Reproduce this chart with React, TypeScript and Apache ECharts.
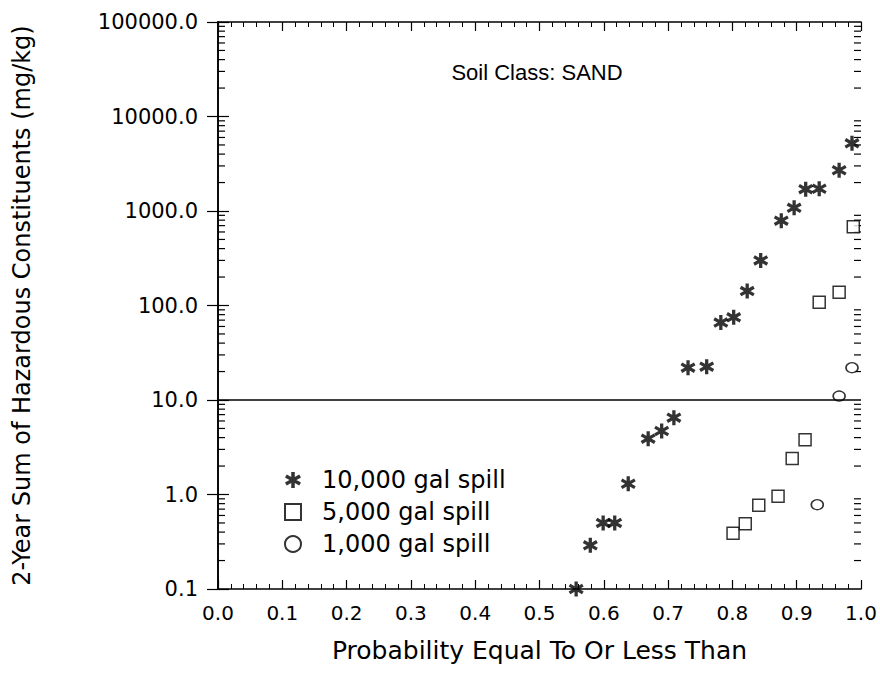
import React, { useEffect, useRef } from "react";
import * as echarts from "echarts";

// ---- data ----
const starX = [0.557, 0.579, 0.599, 0.617, 0.638, 0.669, 0.690, 0.709, 0.731, 0.760, 0.782, 0.802, 0.823, 0.844, 0.876, 0.896, 0.914, 0.935, 0.966, 0.986];
const starY = [0.1, 0.29, 0.5, 0.5, 1.3, 3.9, 4.7, 6.5, 22, 22.5, 66, 75, 142, 300, 790, 1080, 1700, 1720, 2700, 5200];
const squareX = [0.801, 0.820, 0.841, 0.871, 0.893, 0.913, 0.935, 0.966, 0.988];
const squareY = [0.39, 0.49, 0.77, 0.96, 2.4, 3.8, 108, 138, 680];
const circleX = [0.932, 0.966, 0.986];
const circleY = [0.78, 11, 22];

const seriesNames = ["10,000 gal spill", "5,000 gal spill", "1,000 gal spill"];
const titleText = "Soil Class: SAND";
const xName = "Probability Equal To Or Less Than";
const yName = "2-Year Sum of Hazardous Constituents (mg/kg)";
const thresholdValue = 10;
const yMin = 0.1;
const yMax = 100000;
const decadeExponents = [-1, 0, 1, 2, 3, 4];
const minorMultipliers = [2, 3, 4, 5, 6, 7, 8, 9];

const STAR =
  "path://M39 0L61 0L61 100L39 100Z M0 34L11 15L100 66L89 85Z M11 85L0 66L89 15L100 34Z";

const FONT = "DejaVu Sans";

export default function App() {
  const ref = useRef<HTMLDivElement>(null);
  useEffect(() => {
    document.body.style.margin = "0";
    document.body.style.overflow = "hidden";
    if (!ref.current) return;
    const chart = echarts.init(ref.current, null, { renderer: "svg" });

    const minorTicks: number[][] = [];
    decadeExponents.forEach((e) =>
      minorMultipliers.forEach((m) => minorTicks.push([0, m * Math.pow(10, e)]))
    );

    const zip = (xs: number[], ys: number[]) => xs.map((x, i) => [x, ys[i]]);

    const axisLine = { show: true, lineStyle: { color: "#000", width: 1.6 } };

    chart.setOption({
      animation: false,
      backgroundColor: "#fff",
      grid: { left: 218, right: 19, top: 22, bottom: 90, containLabel: false, outerBoundsMode: "none" },
      xAxis: [
        {
          type: "value",
          position: "bottom",
          min: 0,
          max: 1,
          interval: 0.1,
          axisLine,
          axisTick: { show: true, inside: true, length: 9, lineStyle: { color: "#000", width: 1.2 } },
          minorTick: { show: true, splitNumber: 5, length: 5, lineStyle: { color: "#000", width: 1 } },
          splitLine: { show: false },
          axisLabel: {
            margin: 14,
            color: "#000",
            fontSize: 20,
            fontFamily: FONT,
            formatter: (v: number) => v.toFixed(1),
          },
          name: xName,
          nameLocation: "middle",
          nameGap: 49,
          nameTextStyle: { color: "#000", fontSize: 25, fontFamily: FONT },
        },
        {
          type: "value",
          position: "top",
          min: 0,
          max: 1,
          interval: 0.1,
          axisLine,
          axisTick: { show: true, inside: true, length: 9, lineStyle: { color: "#000", width: 1.2 } },
          minorTick: { show: true, splitNumber: 5, length: 5, lineStyle: { color: "#000", width: 1 } },
          splitLine: { show: false },
          axisLabel: { show: false },
        },
      ],
      yAxis: [
        {
          type: "log",
          logBase: 10,
          min: yMin,
          max: yMax,
          interval: 1,
          position: "left",
          axisLine,
          axisTick: { show: true, inside: true, length: 11, lineStyle: { color: "#000", width: 1.2 } },
          splitLine: { show: false },
          axisLabel: {
            margin: 20,
            color: "#000",
            fontSize: 21,
            fontFamily: FONT,
            formatter: (v: number) => v.toFixed(1),
          },
          name: yName,
          nameLocation: "middle",
          nameGap: 184,
          nameTextStyle: { color: "#000", fontSize: 24, fontFamily: FONT },
        },
        {
          type: "log",
          logBase: 10,
          min: yMin,
          max: yMax,
          interval: 1,
          position: "right",
          axisLine,
          axisTick: { show: true, inside: true, length: 11, lineStyle: { color: "#000", width: 1.2 } },
          splitLine: { show: false },
          axisLabel: { show: false },
        },
      ],
      legend: {
        orient: "vertical",
        left: 284,
        top: 468,
        padding: 0,
        itemGap: 8,
        itemWidth: 16,
        itemHeight: 16,
        data: seriesNames,
        textStyle: { color: "#000", fontSize: 24, fontFamily: FONT, padding: [0, 0, 0, 16] },
      },
      graphic: [
        {
          type: "text",
          x: 537,
          y: 72,
          style: {
            text: titleText,
            textAlign: "center",
            textVerticalAlign: "middle",
            fontSize: 22,
            fontFamily: "Liberation Sans",
            fill: "#000",
          },
        },
      ],
      series: [
        {
          name: "minor-ticks",
          type: "custom",
          xAxisIndex: 0,
          yAxisIndex: 0,
          silent: true,
          clip: false,
          data: minorTicks,
          encode: { x: 0, y: 1 },
          renderItem: (params: any, api: any) => {
            const v = api.value(1);
            const pL = api.coord([0, v]);
            const pR = api.coord([1, v]);
            const style = { stroke: "#000", lineWidth: 1.2 };
            return {
              type: "group",
              children: [
                { type: "line", shape: { x1: pL[0], y1: pL[1], x2: pL[0] + 7, y2: pL[1] }, style },
                { type: "line", shape: { x1: pR[0], y1: pR[1], x2: pR[0] - 7, y2: pR[1] }, style },
              ],
            };
          },
        },
        {
          name: seriesNames[0],
          type: "scatter",
          xAxisIndex: 0,
          yAxisIndex: 0,
          symbol: STAR,
          symbolSize: 15,
          itemStyle: { color: "#000" },
          data: zip(starX, starY),
          markLine: {
            silent: true,
            symbol: "none",
            label: { show: false },
            lineStyle: { color: "#000", width: 1.6, type: "solid" },
            data: [{ yAxis: thresholdValue }],
          },
        },
        {
          name: seriesNames[1],
          type: "scatter",
          xAxisIndex: 0,
          yAxisIndex: 0,
          symbol: "rect",
          symbolSize: 12,
          itemStyle: { color: "#fff", borderColor: "#000", borderWidth: 1.5 },
          data: zip(squareX, squareY),
        },
        {
          name: seriesNames[2],
          type: "scatter",
          xAxisIndex: 0,
          yAxisIndex: 0,
          symbol: "circle",
          symbolSize: [12, 10],
          itemStyle: { color: "#fff", borderColor: "#000", borderWidth: 1.5 },
          data: zip(circleX, circleY),
        },
      ],
    });
    return () => chart.dispose();
  }, []);
  return <div ref={ref} style={{ width: 880, height: 679 }} />;
}
